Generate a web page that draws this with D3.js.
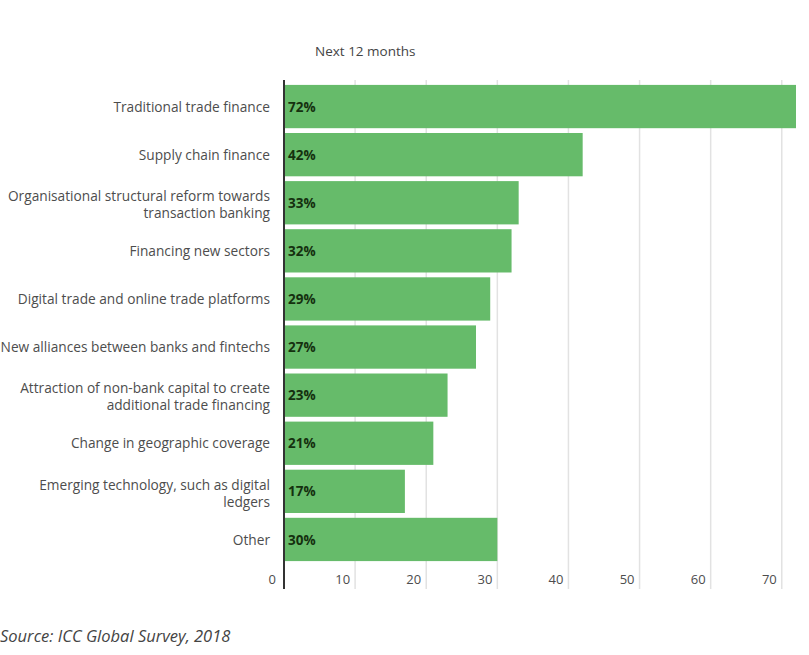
<!DOCTYPE html>
<html>
<head>
<meta charset="utf-8">
<script src="https://cdn.jsdelivr.net/npm/d3@7"></script>
<style>
  html, body { margin: 0; padding: 0; background: #fff; }
  svg { display: block; font-family: "Open Sans", Lato, sans-serif; }
</style>
</head>
<body>
<svg id="chart" width="809" height="655"></svg>
<script>
const categories = [
  ["Traditional trade finance"],
  ["Supply chain finance"],
  ["Organisational structural reform towards", "transaction banking"],
  ["Financing new sectors"],
  ["Digital trade and online trade platforms"],
  ["New alliances between banks and fintechs"],
  ["Attraction of non-bank capital to create", "additional trade financing"],
  ["Change in geographic coverage"],
  ["Emerging technology, such as digital", "ledgers"],
  ["Other"]
];
const values = [72, 42, 33, 32, 29, 27, 23, 21, 17, 30];
const tickValues = [0, 10, 20, 30, 40, 50, 60, 70];
const title = "Next 12 months";
const source = "Source: ICC Global Survey, 2018";

const svg = d3.select("#chart");
const x0 = 284, x1 = 796;
const x = d3.scaleLinear().domain([0, 72]).range([x0, x1]);
const y = d3.scaleBand().domain(d3.range(values.length)).range([82.5, 563.5])
  .paddingInner(0.1).paddingOuter(0.05);

// gridlines
svg.append("g").selectAll("line").data(tickValues.filter(d => d > 0)).join("line")
  .attr("x1", d => x(d)).attr("x2", d => x(d))
  .attr("y1", 80).attr("y2", 589)
  .attr("stroke", "#e2e2e2").attr("stroke-width", 1.5);

// bars
svg.append("g").selectAll("rect").data(values).join("rect")
  .attr("x", x(0)).attr("y", (d, i) => y(i))
  .attr("width", d => x(d) - x(0)).attr("height", y.bandwidth())
  .attr("fill", "#66bb6a");

// value labels
svg.append("g").selectAll("text").data(values).join("text")
  .attr("x", x(0) + 4).attr("y", (d, i) => y(i) + y.bandwidth() / 2)
  .attr("dy", "0.38em")
  .attr("font-size", 13.5).attr("font-weight", "bold").attr("fill", "#15300f")
  .text(d => d + "%");

// category labels (each line its own text element)
const fs = 13.7, lh = 17;
const lines = [];
categories.forEach((c, i) => {
  const n = c.length;
  c.forEach((l, k) => lines.push({ text: l, i: i, off: (k - (n - 1) / 2) * lh + (n > 1 ? 1.5 : 0) }));
});
svg.append("g").selectAll("text").data(lines).join("text")
  .attr("text-anchor", "end").attr("font-size", fs).attr("fill", "#4d4d4d")
  .attr("x", 270)
  .attr("y", d => y(d.i) + y.bandwidth() / 2 + d.off)
  .attr("dy", "0.38em")
  .text(d => d.text);

// x axis tick labels
svg.append("g").selectAll("text").data(tickValues).join("text")
  .attr("x", d => d === 0 ? x(d) - 8 : x(d) - 5)
  .attr("y", 579).attr("dy", "0.35em")
  .attr("text-anchor", "end").attr("font-size", 13).attr("fill", "#4d4d4d")
  .text(d => d);

// axis line
svg.append("line").attr("x1", x0).attr("x2", x0).attr("y1", 80).attr("y2", 589)
  .attr("stroke", "#333").attr("stroke-width", 2);

// title
svg.append("text").attr("x", 315).attr("y", 51).attr("dy", "0.35em")
  .attr("font-size", 13.5).attr("fill", "#444").text(title);

// source
svg.append("text").attr("x", 0).attr("y", 636).attr("dy", "0.35em")
  .attr("font-size", 16.5).attr("font-style", "italic").attr("fill", "#444").text(source);
</script>
</body>
</html>
